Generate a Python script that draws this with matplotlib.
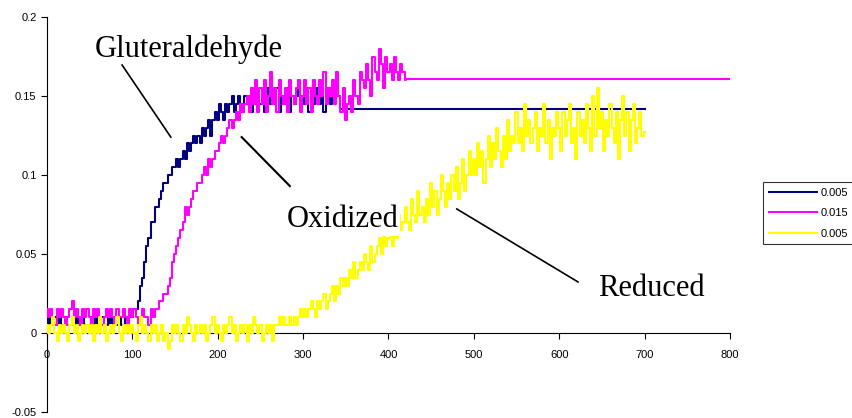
import numpy as np
import matplotlib
matplotlib.use("Agg")
import matplotlib.pyplot as plt

# ---- data (absorbance in thousandths, sampled every 2.5 s) ----
step = 2.5
navy_vals = [
    5, 10, 5, 5, 10, 5, 10, 5, 5, 10, 5, 5, 10, 5, 10, 5, 5, 10, 5, 5,
    5, 10, 5, 10, 5, 5, 10, 5, 5, 10, 5, 10, 5, 5, 10, 5, 5, 10, 5, 10,
    10, 15, 15, 20, 30, 35, 45, 55, 60, 70, 70, 80, 80, 85, 90, 95, 95, 100, 100, 105,
    105, 110, 105, 110, 115, 110, 120, 115, 120, 125, 120, 125, 120, 130, 125, 130, 135, 125, 135, 140,
    135, 145, 140, 135, 145, 140, 145, 150, 140, 145, 150, 145, 140, 150, 145, 150, 140, 150, 145, 150,
    145, 150, 140, 150, 155, 145, 150, 145, 155, 140, 150, 145, 150, 155, 140, 150, 145, 150, 155, 145,
    150, 145, 155, 140, 150, 145, 150, 155, 145, 150, 140, 150, 155, 145, 150, 150, 155, 150, 142]
navy_tail_x = [350, 700]
navy_tail_y = [142, 142]

mag_vals = [
    15, 10, 15, 10, 5, 15, 10, 15, 10, 5, 10, 15, 20, 10, 15, 10, 5, 15, 10, 15,
    10, 5, 15, 10, 15, 10, 5, 10, 15, 10, 15, 10, 5, 15, 10, 10, 15, 10, 5, 15,
    10, 15, 10, 5, 10, 15, 10, 10, 5, 15, 10, 15, 15, 20, 20, 25, 25, 30, 35, 45,
    50, 55, 60, 65, 70, 80, 75, 80, 85, 90, 90, 95, 95, 100, 105, 100, 110, 105, 110, 115,
    115, 120, 125, 120, 125, 130, 135, 130, 135, 140, 135, 145, 140, 145, 150, 140, 155, 145, 160, 140,
    155, 145, 160, 140, 150, 165, 145, 155, 140, 160, 150, 145, 155, 140, 160, 150, 145, 155, 160, 140,
    150, 160, 145, 155, 140, 160, 150, 145, 160, 150, 165, 145, 155, 150, 160, 145, 165, 150, 140, 155,
    135, 145, 150, 140, 160, 150, 145, 165, 160, 155, 170, 160, 150, 175, 165, 160, 180, 170, 155, 175,
    165, 170, 160, 175, 165, 160, 170, 165, 160]
mag_tail_x = [422, 800]
mag_tail_y = [161, 161]

yel_vals = [
    5, 0, 5, 10, 0, -5, 5, 0, 5, 0, -5, 5, 10, 0, 5, -5, 0, 5, 0, 5,
    0, 5, -5, 5, 0, 10, 0, 5, -5, 0, 5, 0, 5, 10, 0, -5, 5, 0, 5, 0,
    5, 0, -5, 5, 10, 0, 5, 0, -5, 5, 0, 5, -5, 0, 5, -5, 0, -10, -5, 5,
    0, 5, 0, -5, 5, 0, 10, 5, 0, -5, 5, 0, 5, 0, 5, -5, 0, 5, 10, 0,
    5, 0, -5, 5, 0, 5, 10, 0, 5, -5, 0, 5, 0, 5, -5, 5, 0, 10, 5, 0,
    5, -5, 0, 5, 0, 5, -5, 5, 5, 10, 5, 10, 5, 5, 10, 5, 10, 5, 10, 15,
    10, 15, 10, 15, 20, 15, 10, 20, 15, 20, 25, 15, 20, 25, 30, 20, 30, 25, 35, 30,
    35, 30, 40, 35, 45, 35, 40, 45, 40, 50, 45, 40, 55, 45, 50, 55, 60, 50, 65, 55,
    60, 65, 55, 70, 60, 75, 65, 70, 80, 70, 65, 85, 75, 70, 90, 75, 80, 70, 85, 75,
    95, 80, 90, 75, 85, 100, 90, 80, 95, 85, 100, 90, 105, 85, 95, 110, 90, 100, 115, 100,
    110, 100, 120, 105, 115, 95, 110, 125, 105, 120, 110, 130, 115, 105, 125, 110, 135, 115, 125, 120,
    140, 120, 130, 115, 145, 125, 135, 120, 130, 140, 115, 130, 125, 145, 120, 135, 110, 130, 125, 140,
    130, 115, 140, 125, 135, 145, 120, 130, 110, 140, 125, 135, 120, 145, 130, 115, 150, 125, 155, 130,
    140, 115, 135, 125, 145, 130, 120, 140, 110, 135, 150, 125, 140, 115, 135, 145, 120, 130, 140, 125,
    127]

labels = ["0.005", "0.015", "0.005"]
colors = ["#000080", "#FF00FF", "#FFFF00"]

navy_x = list(np.arange(len(navy_vals)) * step) + navy_tail_x
navy_y = np.array(navy_vals + navy_tail_y) / 1000.0
mag_x = list(np.arange(len(mag_vals)) * step) + mag_tail_x
mag_y = np.array(mag_vals + mag_tail_y) / 1000.0
yel_x = np.arange(len(yel_vals)) * step
yel_y = np.array(yel_vals) / 1000.0

fig = plt.figure(figsize=(8.53, 4.18), dpi=100)
ax = fig.add_axes([0.0551, 0.01435, 0.8007, 0.94495])

l1, = ax.plot(navy_x, navy_y, color=colors[0], lw=1.5, drawstyle="steps-mid", zorder=3)
l2, = ax.plot(mag_x, mag_y, color=colors[1], lw=1.5, drawstyle="steps-mid", zorder=4)
l3, = ax.plot(yel_x, yel_y, color=colors[2], lw=1.5, drawstyle="steps-mid", zorder=5)

ax.set_xlim(0, 800)
ax.set_ylim(-0.05, 0.2)
ax.set_xticks([0, 100, 200, 300, 400, 500, 600, 700, 800])
ax.set_yticks([-0.05, 0, 0.05, 0.1, 0.15, 0.2])
ax.set_yticklabels(["-0.05", "0", "0.05", "0.1", "0.15", "0.2"])
ax.spines["top"].set_visible(False)
ax.spines["right"].set_visible(False)
ax.spines["bottom"].set_position(("data", 0))
for s in ("left", "bottom"):
    ax.spines[s].set_linewidth(0.8)
ax.tick_params(axis="both", direction="out", length=4, width=0.8,
               labelsize=8, colors="black")
ax.tick_params(axis="x", pad=8)
for lab in ax.get_xticklabels() + ax.get_yticklabels():
    lab.set_family("Liberation Sans")

serif = "Liberation Serif"
ax.text(56, 0.1747, "Gluteraldehyde", family=serif, fontsize=22, zorder=6)
ax.text(281, 0.067, "Oxidized", family=serif, fontsize=22, zorder=6,
        bbox=dict(facecolor="white", edgecolor="none", pad=1.0))
ax.text(645, 0.0234, "Reduced", family=serif, fontsize=22, zorder=6)

ax.plot([88, 145], [0.1696, 0.124], color="black", lw=1.2, zorder=6)
ax.plot([228, 284.5], [0.124, 0.093], color="black", lw=1.5, zorder=6)
ax.plot([480, 622], [0.0785, 0.0323], color="black", lw=1.2, zorder=6)

leg = fig.legend([l1, l2, l3], labels, loc="upper left",
                 bbox_to_anchor=(0.8945, 0.5646), borderaxespad=0,
                 fancybox=False, frameon=True, edgecolor="black",
                 prop={"family": "Liberation Sans", "size": 8},
                 handlelength=4.4, handletextpad=0.3, labelspacing=0.95,
                 borderpad=0.5)
leg.get_frame().set_linewidth(0.8)
for h in leg.get_lines():
    h.set_linewidth(1.5)

fig.savefig("out.png", dpi=100)
